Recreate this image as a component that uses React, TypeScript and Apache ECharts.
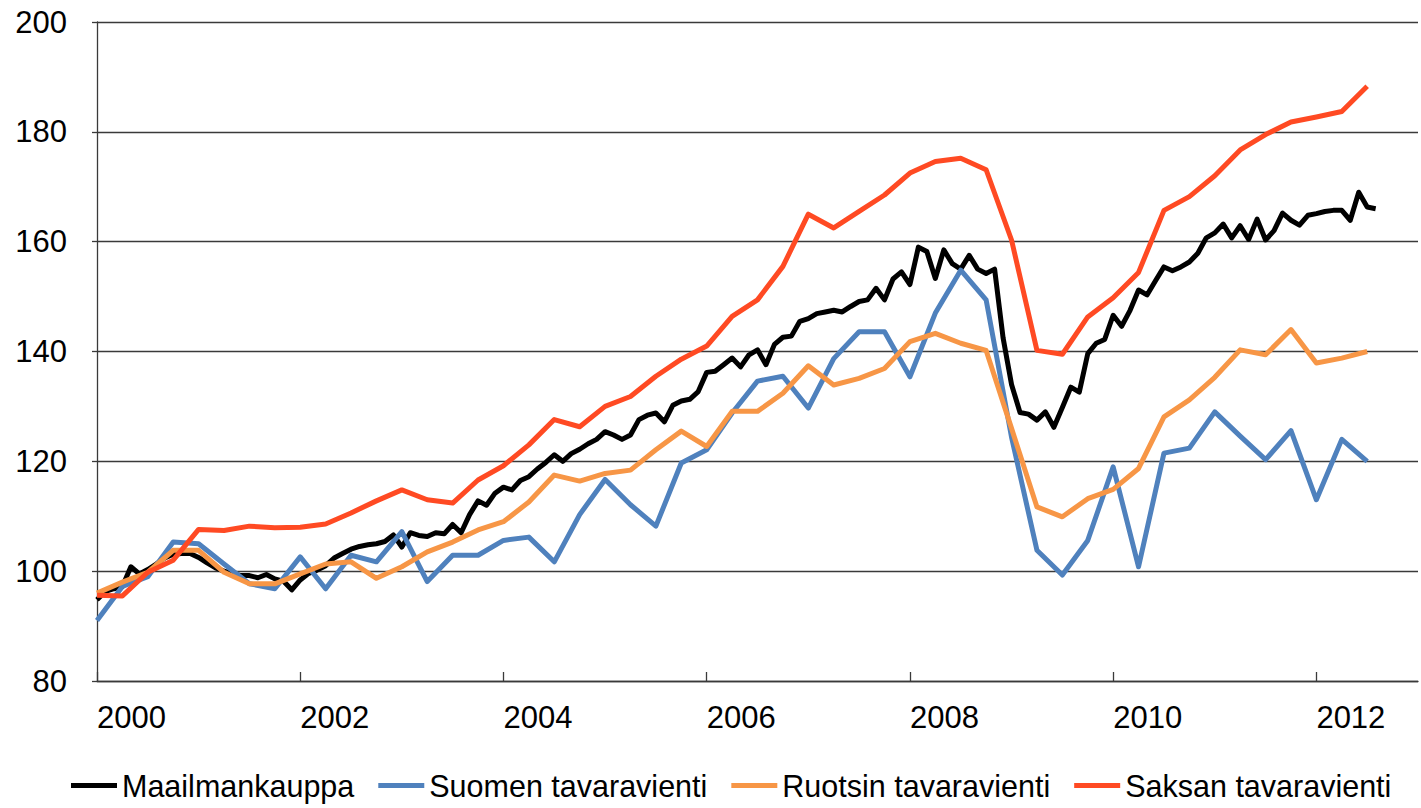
import React, { useEffect, useRef } from "react";
import * as echarts from "echarts";

// x positions are months since Jan 2000
const xTickMonths = [0, 24, 48, 72, 96, 120, 144];
const yTicks = [80, 100, 120, 140, 160, 180, 200];
const seriesNames = ["Maailmankauppa", "Suomen tavaravienti", "Ruotsin tavaravienti", "Saksan tavaravienti"];

// monthly, Jan 2000 ... Aug 2012
const maailmankauppa = [
  94.8, 96.3, 96.8, 97.2, 100.8, 99.5, 100.3, 101.3, 102.4, 103.1, 103.2, 103.2,
  102.5, 101.5, 100.6, 100.0, 99.6, 99.2, 99.2, 98.8, 99.4, 98.6, 98.2, 96.6,
  98.4, 99.6, 100.2, 101.0, 102.4, 103.2, 104.0, 104.5, 104.8, 105.0, 105.4, 106.6,
  104.4, 107.0, 106.5, 106.3, 107.0, 106.8, 108.5, 107.0, 110.3, 112.8, 112.0, 114.2,
  115.3, 114.8, 116.5, 117.2, 118.6, 119.8, 121.2, 120.0, 121.4, 122.2, 123.2, 124.0,
  125.4, 124.8, 124.0, 124.8, 127.6, 128.4, 128.8, 127.2, 130.2, 131.0, 131.3, 132.7,
  136.2, 136.4, 137.6, 138.8, 137.2, 139.4, 140.3, 137.6, 141.3, 142.6, 142.8, 145.5,
  146.0, 146.9, 147.2, 147.5, 147.2, 148.2, 149.1, 149.4, 151.5, 149.4, 153.2, 154.5,
  152.2, 159.0, 158.2, 153.3, 158.5, 156.0, 155.0, 157.5, 155.0, 154.2, 155.0, 142.5,
  134.0, 128.9, 128.6, 127.5, 129.0, 126.2, 129.8, 133.5, 132.6, 139.6, 141.5, 142.2,
  146.6, 144.6, 147.5, 151.2, 150.3, 152.9, 155.4, 154.7, 155.4, 156.3, 157.9, 160.7,
  161.6, 163.2, 160.7, 162.9, 160.4, 164.1, 160.3, 162.0, 165.2, 163.9, 163.0, 164.8,
  165.1, 165.5, 165.7, 165.7, 163.9, 169.0, 166.3, 166.0
];

// quarterly, Q1 2000 ... Q3 2012
const suomen = [
  91.0, 97.2, 99.0, 105.3, 105.0, 101.3, 97.7, 96.8, 102.6, 96.8,
  102.9, 101.7, 107.2, 98.1, 102.9, 102.9, 105.6, 106.2, 101.7, 110.3,
  116.7, 112.1, 108.2, 119.7, 122.1, 128.8, 134.6, 135.5, 129.7, 138.7,
  143.6, 143.6, 135.4, 147.0, 154.8, 149.4, 124.4, 103.8, 99.3, 105.6,
  119.0, 100.8, 121.5, 122.4, 129.0, 124.6, 120.3, 125.6, 113.0, 124.0,
  120.0
];
const ruotsin = [
  96.0, 98.0, 99.8, 103.8, 103.8, 99.8, 97.7, 97.7, 99.5, 101.3,
  101.7, 98.7, 100.8, 103.5, 105.3, 107.5, 109.0, 112.6, 117.5, 116.4,
  117.8, 118.4, 122.1, 125.5, 122.7, 129.1, 129.1, 132.4, 137.4, 133.9,
  135.1, 136.9, 141.8, 143.3, 141.5, 140.2, 126.0, 111.7, 109.9, 113.2,
  114.9, 118.7, 128.1, 131.2, 135.3, 140.3, 139.4, 144.0, 137.9, 138.8,
  140.0
];
const saksan = [
  95.6, 95.5, 99.8, 102.0, 107.6, 107.4, 108.2, 107.9, 108.0, 108.6,
  110.6, 112.8, 114.8, 113.0, 112.4, 116.6, 119.2, 123.0, 127.6, 126.3,
  130.0, 131.8, 135.5, 138.6, 141.0, 146.4, 149.4, 155.5, 165.0, 162.5,
  165.5, 168.5, 172.5, 174.6, 175.2, 173.1, 160.3, 140.2, 139.5, 146.3,
  149.8, 154.4, 165.7, 168.2, 172.0, 176.7, 179.5, 181.8, 182.7, 183.7,
  188.3
];

const colors = ["#000000", "#4F81BD", "#F79646", "#FF4A23"];
const FONT = "'Liberation Sans', Arial, sans-serif";

const monthly = (arr: number[]) => arr.map((v, i) => [i, v]);
const quarterly = (arr: number[]) => arr.map((v, i) => [i * 3, v]);

export default function App() {
  const ref = useRef<HTMLDivElement>(null);
  useEffect(() => {
    if (!ref.current) return;
    const chart = echarts.init(ref.current, null, { renderer: "svg" });
    const datasets = [monthly(maailmankauppa), quarterly(suomen), quarterly(ruotsin), quarterly(saksan)];
    chart.setOption({
      animation: false,
      backgroundColor: "#ffffff",
      grid: { left: 97, right: 3, top: 22, bottom: 127, containLabel: false },
      legend: {
        left: 66,
        top: 765,
        icon: "rect",
        itemWidth: 46,
        itemHeight: 5,
        itemGap: 24,
        textStyle: { fontFamily: FONT, fontSize: 30.5, color: "#000" },
        data: seriesNames,
      },
      xAxis: {
        type: "value",
        min: 0,
        max: 156,
        interval: 24,
        axisLine: { show: true, lineStyle: { color: "#3a3a3a", width: 1.3 } },
        axisTick: { show: true, inside: true, length: 9, customValues: xTickMonths, lineStyle: { color: "#3a3a3a", width: 1.3 } },
        axisLabel: {
          customValues: xTickMonths,
          formatter: (v: number) => String(2000 + Math.round(v / 12)),
          align: "left",
          margin: 21,
          fontFamily: FONT,
          fontSize: 31,
          color: "#000",
        },
        splitLine: { show: false },
      },
      yAxis: {
        type: "value",
        min: yTicks[0],
        max: yTicks[yTicks.length - 1],
        interval: 20,
        axisLine: { show: true, lineStyle: { color: "#3a3a3a", width: 1.3 } },
        axisTick: { show: true, inside: false, length: 5, lineStyle: { color: "#3a3a3a", width: 1.3 } },
        axisLabel: { margin: 30, fontFamily: FONT, fontSize: 31, color: "#000" },
        splitLine: { show: true, lineStyle: { color: "#3a3a3a", width: 1.3 } },
      },
      series: seriesNames.map((name, i) => ({
        name,
        type: "line",
        data: datasets[i],
        symbol: "none",
        color: colors[i],
        lineStyle: { width: 5, color: colors[i], join: "round" },
      })),
    });
    return () => chart.dispose();
  }, []);
  return <div ref={ref} style={{ position: "fixed", left: 0, top: 0, width: 1421, height: 808 }} />;
}
